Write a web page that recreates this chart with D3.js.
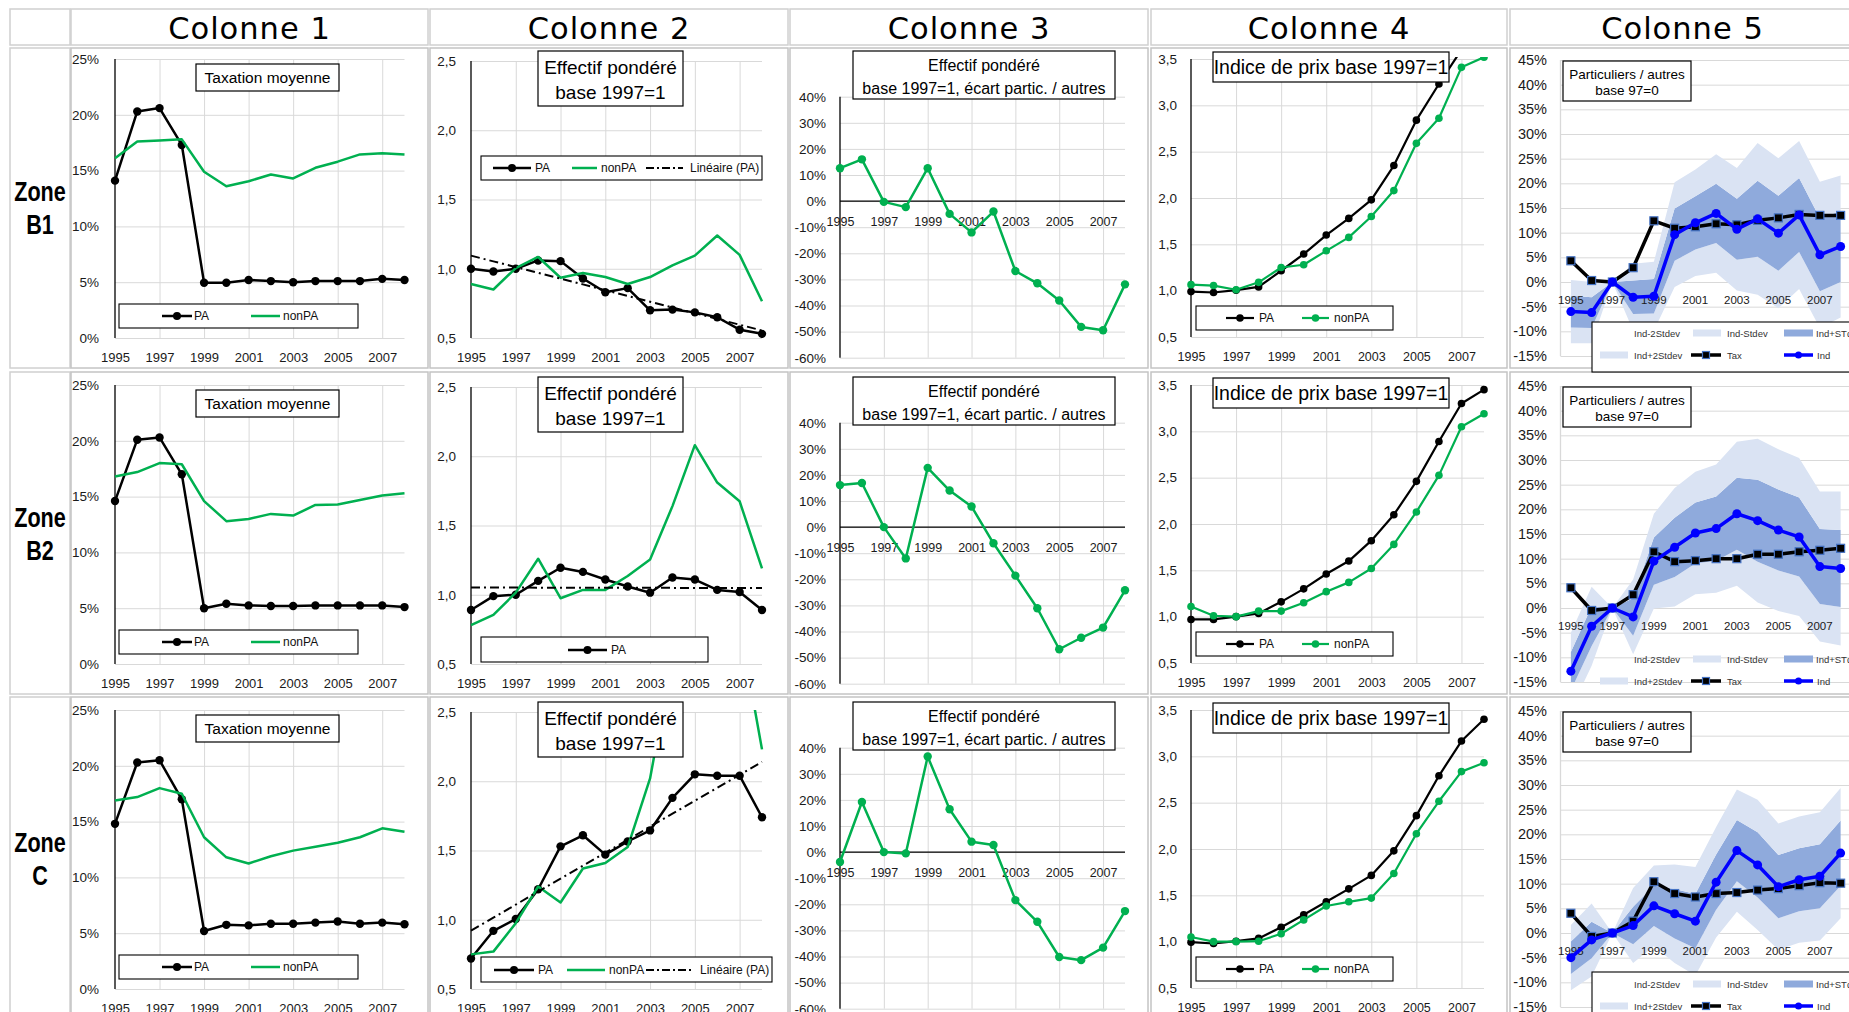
<!DOCTYPE html>
<html>
<head>
<meta charset="utf-8">
<title>Colonnes 1-5</title>
<script src="https://cdn.jsdelivr.net/npm/d3@7"></script>
<style>
  body { margin: 0; background: #fff; }
  svg { display: block; font-family: "Liberation Sans", Arial, sans-serif; }
</style>
</head>
<body>
<script>
var years = [1995, 1996, 1997, 1998, 1999, 2000, 2001, 2002, 2003, 2004, 2005, 2006, 2007, 2008];
var labelYears = [1995, 1997, 1999, 2001, 2003, 2005, 2007];
var columnNames = ["Colonne 1", "Colonne 2", "Colonne 3", "Colonne 4", "Colonne 5"];
var zoneNames = ["B1", "B2", "C"];

// Colonne 1 : taxation moyenne (%)
var taxPA_B1 = [14.1, 20.3, 20.6, 17.3, 4.95, 4.95, 5.2, 5.1, 5.0, 5.1, 5.1, 5.1, 5.3, 5.2];
var taxNonPA_B1 = [16.1, 17.6, 17.7, 17.8, 14.9, 13.6, 14.05, 14.65, 14.3, 15.25, 15.8, 16.45, 16.55, 16.45];
var taxPA_B2 = [14.6, 20.1, 20.3, 17.0, 5.0, 5.4, 5.25, 5.2, 5.2, 5.25, 5.25, 5.25, 5.25, 5.1];
var taxNonPA_B2 = [16.8, 17.2, 18.0, 17.9, 14.6, 12.8, 13.0, 13.45, 13.3, 14.25, 14.3, 14.7, 15.1, 15.3];
var taxPA_C = [14.8, 20.3, 20.5, 17.0, 5.2, 5.75, 5.7, 5.85, 5.85, 5.95, 6.05, 5.85, 5.95, 5.8];
var taxNonPA_C = [16.9, 17.2, 18.0, 17.5, 13.6, 11.8, 11.25, 11.9, 12.4, 12.75, 13.1, 13.6, 14.4, 14.1];

// Colonne 2 : effectif pondéré, base 1997=1
var effPA_B1 = [1.00, 0.98, 1.00, 1.06, 1.055, 0.93, 0.83, 0.86, 0.70, 0.705, 0.685, 0.65, 0.56, 0.53];
var effNonPA_B1 = [0.89, 0.85, 1.005, 1.085, 0.935, 0.97, 0.94, 0.89, 0.94, 1.025, 1.095, 1.24, 1.10, 0.765];
var effPA_B2 = [0.89, 0.99, 1.00, 1.10, 1.195, 1.165, 1.11, 1.06, 1.015, 1.125, 1.11, 1.035, 1.02, 0.89];
var effNonPA_B2 = [0.78, 0.855, 1.015, 1.26, 0.975, 1.035, 1.035, 1.135, 1.255, 1.64, 2.08, 1.81, 1.675, 1.19];
var effPA_C = [0.72, 0.92, 1.005, 1.22, 1.53, 1.61, 1.47, 1.565, 1.645, 1.88, 2.05, 2.04, 2.04, 1.74];
var effNonPA_C = [0.75, 0.77, 0.975, 1.24, 1.125, 1.37, 1.41, 1.525, 2.02, 2.9, 3.3, 3.2, 3.13, 2.23];

// Colonne 3 : écart particuliers / autres (%)
var ecart_B1 = [12.6, 16.0, -0.3, -2.3, 12.6, -4.9, -12.0, -4.0, -26.8, -31.5, -38.1, -48.2, -49.5, -31.9];
var ecart_B2 = [16.1, 16.9, 0, -12.0, 22.7, 14.0, 7.9, -6.2, -18.6, -31.1, -46.8, -42.4, -38.5, -24.2];
var ecart_C = [-3.8, 19.2, 0, -0.5, 36.6, 16.4, 4.0, 2.7, -18.4, -26.7, -40.2, -41.4, -36.6, -22.6];

// Colonne 4 : indice de prix, base 1997=1
var prixPA_B1 = [0.99, 0.98, 1.005, 1.04, 1.215, 1.395, 1.60, 1.78, 1.98, 2.35, 2.84, 3.23, 3.60, 3.85];
var prixNonPA_B1 = [1.065, 1.055, 1.01, 1.09, 1.25, 1.28, 1.43, 1.575, 1.80, 2.08, 2.59, 2.86, 3.41, 3.52];
var prixPA_B2 = [0.97, 0.97, 1.0, 1.035, 1.16, 1.30, 1.46, 1.60, 1.82, 2.10, 2.46, 2.89, 3.30, 3.45];
var prixNonPA_B2 = [1.11, 1.01, 1.0, 1.06, 1.06, 1.15, 1.27, 1.37, 1.52, 1.78, 2.13, 2.525, 3.05, 3.19];
var prixPA_C = [0.995, 0.98, 1.005, 1.035, 1.155, 1.29, 1.43, 1.57, 1.715, 1.98, 2.36, 2.79, 3.165, 3.40];
var prixNonPA_C = [1.05, 1.0, 1.0, 1.005, 1.085, 1.235, 1.385, 1.43, 1.47, 1.735, 2.165, 2.515, 2.835, 2.93];

// Colonne 5 : particuliers / autres, base 97=0 (%)
var tax_B1 = [4.3, 0.3, 0, 2.9, 12.4, 10.9, 11.2, 11.8, 11.6, 12.5, 13.0, 13.7, 13.5, 13.5];
var ind_B1 = [-6.0, -6.2, 0, -3.1, -2.9, 9.6, 12.0, 13.9, 10.7, 12.8, 9.9, 13.6, 5.5, 7.2];
var sd_B1 = [3.2, 3.1, 0, 3.4, 3.5, 5.3, 5.4, 6.0, 6.2, 7.7, 7.6, 7.5, 7.4, 7.2];
var tax_B2 = [4.1, -0.5, 0, 2.7, 11.4, 9.4, 9.6, 10.0, 10.0, 10.9, 10.9, 11.4, 11.7, 12.1];
var ind_B2 = [-12.8, -3.7, 0, -1.8, 9.5, 12.3, 15.2, 16.1, 19.1, 17.7, 15.8, 14.4, 8.4, 8.0];
var sd_B2 = [3.9, 4.0, 0, 3.8, 4.8, 6.0, 6.2, 6.5, 7.3, 8.3, 8.2, 8.0, 7.6, 7.8];
var tax_C = [4.0, -0.7, 0, 2.4, 10.4, 8.0, 7.3, 8.0, 8.2, 8.7, 9.0, 9.6, 10.2, 10.1];
var ind_C = [-5.0, -1.4, 0, 1.5, 5.5, 3.9, 2.4, 10.3, 16.7, 13.8, 9.4, 10.8, 11.5, 16.2];
var sd_C = [3.3, 3.7, 0, 3.8, 4.1, 5.0, 5.5, 5.6, 6.2, 6.6, 6.4, 6.4, 6.5, 6.6];

var taxPA = [taxPA_B1, taxPA_B2, taxPA_C];
var taxNonPA = [taxNonPA_B1, taxNonPA_B2, taxNonPA_C];
var effPA = [effPA_B1, effPA_B2, effPA_C];
var effNonPA = [effNonPA_B1, effNonPA_B2, effNonPA_C];
var ecart = [ecart_B1, ecart_B2, ecart_C];
var prixPA = [prixPA_B1, prixPA_B2, prixPA_C];
var prixNonPA = [prixNonPA_B1, prixNonPA_B2, prixNonPA_C];
var taxRel = [tax_B1, tax_B2, tax_C];
var indRel = [ind_B1, ind_B2, ind_C];
var sdRel = [sd_B1, sd_B2, sd_C];

var green = "#00b050", blue = "#0000ff", light = "#dae3f3", dark = "#8faadc", grid = "#d9d9d9";
var pct = function(d) { return d + "%"; };
var comma1 = function(d) { return d3.format(".1f")(d).replace(".", ","); };

var svg = d3.select("body").append("svg").attr("width", 1849).attr("height", 1012);

var rowDy = [0, 326, 651];
var rowBox = [[48, 368], [372, 694], [697, 1014]];
var colBox = [[71, 428], [430, 788], [790, 1148], [1151, 1507], [1510, 1855]];

// table frame
var frame = svg.append("g").attr("fill", "#fff").attr("stroke", "#d0d0d0").attr("stroke-width", 1.5);
frame.append("rect").attr("x", 10).attr("y", 9).attr("width", 60).attr("height", 36);
colBox.forEach(function(c, i) {
  frame.append("rect").attr("x", c[0]).attr("y", 9).attr("width", c[1] - c[0]).attr("height", 36);
  svg.append("text").attr("x", (c[0] + c[1]) / 2).attr("y", 28)
    .attr("text-anchor", "middle").attr("dominant-baseline", "central")
    .style("font-family", '"DejaVu Sans", sans-serif').attr("font-size", 30.5)
    .attr("letter-spacing", 1).text(columnNames[i]);
});
rowBox.forEach(function(r, ri) {
  frame.append("rect").attr("x", 10).attr("y", r[0]).attr("width", 60).attr("height", r[1] - r[0]);
  colBox.forEach(function(c) {
    frame.append("rect").attr("x", c[0]).attr("y", r[0]).attr("width", c[1] - c[0]).attr("height", r[1] - r[0])
      .attr("stroke", "#c4c4c4");
  });
  var zt = svg.append("g").attr("transform", "translate(40," + rowDy[ri] + ") scale(0.8,1)")
    .attr("font-weight", "bold").attr("font-size", 27).attr("text-anchor", "middle");
  zt.append("text").attr("y", 201).text("Zone");
  zt.append("text").attr("y", 234).text(zoneNames[ri]);
});

function linearFit(vals) {
  var xs = d3.range(1, vals.length + 1);
  var mx = d3.mean(xs), my = d3.mean(vals);
  var b = d3.sum(xs, function(xv, i) { return (xv - mx) * (vals[i] - my); }) /
          d3.sum(xs, function(xv) { return (xv - mx) * (xv - mx); });
  return xs.map(function(xv) { return my + b * (xv - mx); });
}

function plot(g, o) {
  var x = o.band
    ? d3.scaleBand().domain(years).range([o.x0, o.x1]).padding(0)
    : d3.scalePoint().domain(years).range([o.x0, o.x1]);
  var off = o.band ? x.bandwidth() / 2 : 0;
  var px = function(yr) { return x(yr) + off; };
  var y = d3.scaleLinear().domain(o.domain).range([o.yBot, o.yTop]);
  var w = o.x1 - o.x0;

  // gridlines
  g.append("g").attr("transform", "translate(" + o.x0 + ",0)")
    .call(d3.axisLeft(y).tickValues(o.ticks).tickSize(-w).tickFormat(""))
    .call(function(s) { s.select(".domain").remove(); s.selectAll("line").attr("stroke", grid); });

  if (o.vgrid) {
    g.append("g").attr("transform", "translate(0," + o.yBot + ")")
      .call(d3.axisBottom(x).tickValues(labelYears.slice(1)).tickSize(-(o.yBot - o.yTop)).tickFormat(""))
      .call(function(s) { s.select(".domain").remove(); s.selectAll("line").attr("stroke", grid); });
  }

  // clip + series
  g.append("clipPath").attr("id", o.id).append("rect")
    .attr("x", o.x0 - 8).attr("y", o.yTop - 2).attr("width", w + 16).attr("height", o.yBot - o.yTop + 2);
  var content = g.append("g").attr("clip-path", "url(#" + o.id + ")");

  if (o.bands) {
    var ind = o.bands.ind, sd = o.bands.sd;
    var layers = [[-2, -1, light], [-1, 1, dark], [1, 2, light]];
    layers.forEach(function(l) {
      var area = d3.area()
        .x(function(d, i) { return px(years[i]); })
        .y0(function(d, i) { return y(ind[i] + l[0] * sd[i]); })
        .y1(function(d, i) { return y(ind[i] + l[1] * sd[i]); });
      content.append("path").datum(ind).attr("d", area).attr("fill", l[2]);
    });
  }

  // axis lines
  g.append("line").attr("x1", o.x0).attr("x2", o.x0).attr("y1", o.yTop).attr("y2", o.yBot)
    .attr("stroke", o.axis).attr("stroke-width", 1.3);
  if (o.zeroLine) {
    g.append("line").attr("x1", o.x0).attr("x2", o.x1).attr("y1", y(0)).attr("y2", y(0))
      .attr("stroke", "#000").attr("stroke-width", 1.3);
  }

  // y tick labels
  g.append("g").attr("transform", "translate(" + o.x0 + ",0)")
    .call(d3.axisLeft(y).tickValues(o.ticks).tickFormat(o.fmt).tickSize(0).tickPadding(o.pad))
    .call(function(s) {
      s.attr("font-family", null).attr("font-size", o.fs);
      s.select(".domain").remove();
      s.selectAll("text").attr("fill", "#1a1a1a");
    });

  // x tick labels (drawn over the bands, as in the sheet)
  var xAxisY = o.xAt === "zero" ? y(0) : o.yBot;
  g.append("g").attr("transform", "translate(0," + xAxisY + ")")
    .call(d3.axisBottom(x).tickValues(labelYears).tickSize(0).tickPadding(o.xpad))
    .call(function(s) {
      s.attr("font-family", null).attr("font-size", o.xfs);
      s.select(".domain").remove();
      s.selectAll("text").attr("fill", "#1a1a1a");
    });

  var lines = g.append("g").attr("clip-path", "url(#" + o.id + ")");
  o.series.forEach(function(s) {
    var line = d3.line().x(function(d, i) { return px(years[i]); }).y(function(d) { return y(d); });
    lines.append("path").datum(s.values).attr("d", line).attr("fill", "none")
      .attr("stroke", s.color).attr("stroke-width", s.width).attr("stroke-linejoin", "round")
      .attr("stroke-dasharray", s.dash || null);
    if (s.marker === "circle") {
      lines.append("g").selectAll("circle").data(s.values).join("circle")
        .attr("cx", function(d, i) { return px(years[i]); }).attr("cy", function(d) { return y(d); })
        .attr("r", s.r).attr("fill", s.color);
    }
    if (s.marker === "square") {
      lines.append("g").selectAll("rect").data(s.values).join("rect")
        .attr("x", function(d, i) { return px(years[i]) - s.r; }).attr("y", function(d) { return y(d) - s.r; })
        .attr("width", 2 * s.r).attr("height", 2 * s.r)
        .attr("fill", s.color).attr("stroke", "#4472c4").attr("stroke-width", 1.2);
    }
  });
}

function titleBox(g, b, lines, fs, lineYs) {
  g.append("rect").attr("x", b[0]).attr("y", b[1]).attr("width", b[2] - b[0]).attr("height", b[3] - b[1])
    .attr("fill", "#fff").attr("stroke", "#000").attr("stroke-width", 1.2);
  lines.forEach(function(t, i) {
    g.append("text").attr("x", (b[0] + b[2]) / 2).attr("y", lineYs[i])
      .attr("text-anchor", "middle").attr("dominant-baseline", "central").attr("font-size", fs).text(t);
  });
}

function legend(g, b, cy, items, fs) {
  if (b) {
    g.append("rect").attr("x", b[0]).attr("y", b[1]).attr("width", b[2] - b[0]).attr("height", b[3] - b[1])
      .attr("fill", "#fff").attr("stroke", "#000").attr("stroke-width", 1.1);
  }
  items.forEach(function(it) {
    var yy = it.cy || cy;
    if (it.swatch) {
      g.append("rect").attr("x", it.l0).attr("y", yy - 3.5).attr("width", it.l1 - it.l0).attr("height", 7).attr("fill", it.swatch);
    } else if (it.color) {
      g.append("line").attr("x1", it.l0).attr("x2", it.l1).attr("y1", yy).attr("y2", yy)
        .attr("stroke", it.color).attr("stroke-width", it.width).attr("stroke-dasharray", it.dash || null);
      var mx = (it.l0 + it.l1) / 2;
      if (it.marker === "circle") g.append("circle").attr("cx", mx).attr("cy", yy).attr("r", it.r).attr("fill", it.color);
      if (it.marker === "square") g.append("rect").attr("x", mx - it.r).attr("y", yy - it.r).attr("width", 2 * it.r).attr("height", 2 * it.r)
        .attr("fill", it.color).attr("stroke", "#4472c4").attr("stroke-width", 1.2);
    }
    g.append("text").attr("x", it.tx).attr("y", yy).attr("dominant-baseline", "central")
      .attr("font-size", fs).attr("fill", it.tcol || "#111").text(it.label);
  });
}

var col2Legends = [
  { box: [481, 156, 762, 180], cy: 168, items: [
    { l0: 493, l1: 531, color: "#000", width: 2.5, marker: "circle", r: 4, tx: 535, label: "PA" },
    { l0: 572, l1: 597, color: green, width: 2.5, tx: 601, label: "nonPA" },
    { l0: 646, l1: 683, color: "#000", width: 2, dash: "8,3,2,3", tx: 690, label: "Linéaire (PA)" }] },
  { box: [481, 311, 708, 336], cy: 324, items: [
    { l0: 568, l1: 607, color: "#000", width: 2.5, marker: "circle", r: 4, tx: 611, label: "PA" }] },
  { box: [481, 306, 772, 331], cy: 319, items: [
    { l0: 494, l1: 534, color: "#000", width: 2.5, marker: "circle", r: 4, tx: 538, label: "PA" },
    { l0: 567, l1: 605, color: green, width: 2.5, tx: 609, label: "nonPA" },
    { l0: 646, l1: 693, color: "#000", width: 2, dash: "8,3,2,3", tx: 700, label: "Linéaire (PA)" }] }
];
var col5LegendBox = [[1592, 322, 1860, 372], null, [1592, 321, 1860, 372]];

zoneNames.forEach(function(z, r) {
  var rg = svg.append("g").attr("transform", "translate(0," + rowDy[r] + ")");

  // Colonne 1
  plot(rg, { id: "c1" + r, x0: 115, x1: 404.5, yTop: 59, yBot: 338, domain: [0, 25], ticks: [0, 5, 10, 15, 20, 25],
    fmt: pct, fs: 13.5, pad: 16, axis: "#000", vgrid: true, xAt: "bottom", xfs: 13, xpad: 15,
    series: [
      { values: taxPA[r], color: "#000", width: 2.5, marker: "circle", r: 4.2 },
      { values: taxNonPA[r], color: green, width: 2.5 }] });
  titleBox(rg, [196, 64, 339, 91], ["Taxation moyenne"], 15.5, [77.5]);
  legend(rg, [119, 304, 358, 328], 316, [
    { l0: 162, l1: 192, color: "#000", width: 2.5, marker: "circle", r: 4, tx: 194, label: "PA" },
    { l0: 251, l1: 280, color: green, width: 2.5, tx: 283, label: "nonPA" }], 12);

  // Colonne 2
  plot(rg, { id: "c2" + r, x0: 471, x1: 762, yTop: 61, yBot: 338, domain: [0.5, 2.5], ticks: [0.5, 1, 1.5, 2, 2.5],
    fmt: comma1, fs: 13.5, pad: 15, axis: "#000", vgrid: true, xAt: "bottom", xfs: 13, xpad: 15,
    series: [
      { values: effPA[r], color: "#000", width: 2.5, marker: "circle", r: 4.2 },
      { values: effNonPA[r], color: green, width: 2.5 },
      { values: linearFit(effPA[r]), color: "#000", width: 2, dash: "9,4,2,4" }] });
  titleBox(rg, [538, 51, 683, 106], ["Effectif pondéré", "base 1997=1"], 19, [67, 92]);
  legend(rg, col2Legends[r].box, col2Legends[r].cy, col2Legends[r].items, 12);

  // Colonne 3
  plot(rg, { id: "c3" + r, x0: 840, x1: 1125, yTop: 96.7, yBot: 357.7, domain: [-60, 40], ticks: d3.range(-60, 41, 10),
    fmt: pct, fs: 13.5, pad: 14, axis: "#000", vgrid: true, zeroLine: true, xAt: "zero", xfs: 12.5, xpad: 16.5,
    series: [{ values: ecart[r], color: green, width: 2.5, marker: "circle", r: 4.2 }] });
  titleBox(rg, [853, 51, 1115, 99], ["Effectif pondéré", "base 1997=1, écart partic. / autres"], 16, [65, 88]);

  // Colonne 4
  plot(rg, { id: "c4" + r, x0: 1191, x1: 1484, yTop: 59, yBot: 337, domain: [0.5, 3.5], ticks: d3.range(0.5, 3.51, 0.5),
    fmt: comma1, fs: 13.5, pad: 14, axis: "#000", vgrid: true, xAt: "bottom", xfs: 12.5, xpad: 15,
    series: [
      { values: prixPA[r], color: "#000", width: 2.2, marker: "circle", r: 3.8 },
      { values: prixNonPA[r], color: green, width: 2.2, marker: "circle", r: 3.8 }] });
  titleBox(rg, [1213, 52, 1449, 82], ["Indice de prix base 1997=1"], 19.5, [67]);
  legend(rg, [1196, 306, 1393, 330], 318, [
    { l0: 1226, l1: 1254, color: "#000", width: 2.2, marker: "circle", r: 3.8, tx: 1259, label: "PA" },
    { l0: 1302, l1: 1329, color: green, width: 2.2, marker: "circle", r: 3.8, tx: 1334, label: "nonPA" }], 12);

  // Colonne 5
  plot(rg, { id: "c5" + r, band: true, x0: 1560.5, x1: 1851, yTop: 60, yBot: 356, domain: [-15, 45], ticks: d3.range(-15, 46, 5),
    fmt: pct, fs: 14.5, pad: 13.5, axis: grid, xAt: "zero", xfs: 11.5, xpad: 13.5,
    bands: { ind: indRel[r], sd: sdRel[r] },
    series: [
      { values: taxRel[r], color: "#000", width: 3.5, marker: "square", r: 4 },
      { values: indRel[r], color: blue, width: 3.5, marker: "circle", r: 4.5 }] });
  titleBox(rg, [1563, 61, 1691, 101], ["Particuliers / autres", "base 97=0"], 13.5, [74, 90]);
  legend(rg, col5LegendBox[r], 333, [
    { tx: 1634, label: "Ind-2Stdev", tcol: "#333" },
    { l0: 1693, l1: 1721, swatch: light, tx: 1727, label: "Ind-Stdev", tcol: "#333" },
    { l0: 1784, l1: 1813, swatch: dark, tx: 1816, label: "Ind+STdev", tcol: "#333" },
    { cy: 355, l0: 1600, l1: 1628, swatch: light, tx: 1634, label: "Ind+2Stdev", tcol: "#333" },
    { cy: 355, l0: 1691, l1: 1721, color: "#000", width: 3.5, marker: "square", r: 3.5, tx: 1727, label: "Tax", tcol: "#333" },
    { cy: 355, l0: 1784, l1: 1813, color: blue, width: 3.5, marker: "circle", r: 3.5, tx: 1817, label: "Ind", tcol: "#333" }], 9.5);
});
</script>
</body>
</html>
